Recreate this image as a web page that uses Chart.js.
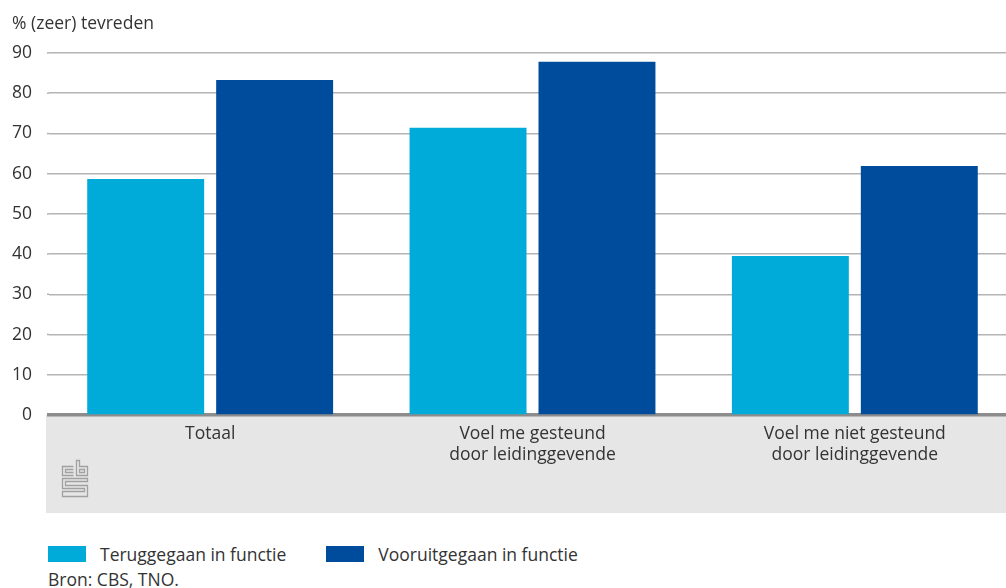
<!DOCTYPE html>
<html>
<head>
<meta charset="utf-8">
<script src="https://cdn.jsdelivr.net/npm/chart.js@4"></script>
<style>
  html, body { margin: 0; padding: 0; background: #fff; overflow: hidden; width: 1006px; height: 588px; }
  body { position: relative; font-family: "Open Sans", sans-serif; color: #333; }
  #wrap { position: absolute; left: 0; top: 0; width: 1018px; height: 520px; }
  #ytitle { position: absolute; left: 12px; top: 10px; font-size: 17.5px; line-height: 24px; }
  #legend { position: absolute; left: 48px; top: 542px; font-size: 17.5px; line-height: 24px; display: flex; }
  .item { display: flex; align-items: center; margin-right: 40px; }
  .sw { width: 38px; height: 16px; margin-right: 14px; }
  #src { position: absolute; left: 48px; top: 567px; font-size: 17.5px; line-height: 24px; }
</style>
</head>
<body>
<div id="wrap"><canvas id="c" width="1018" height="520"></canvas></div>
<div id="ytitle">% (zeer) tevreden</div>
<div id="legend"></div>
<div id="src">Bron: CBS, TNO.</div>
<script>
const categories = ["Totaal", ["Voel me gesteund", "door leidinggevende"], ["Voel me niet gesteund", "door leidinggevende"]];
const seriesNames = ["Teruggegaan in functie", "Vooruitgegaan in functie"];
const teruggegaan = [58.7, 71.4, 39.5];
const vooruitgegaan = [83.3, 87.8, 61.9];
const colors = ["#00aad9", "#004c9c"];
const yTicks = [0, 10, 20, 30, 40, 50, 60, 70, 80, 90];

const bandPlugin = {
  id: 'band',
  beforeDraw(chart) {
    const { ctx, chartArea } = chart;
    ctx.save();
    ctx.fillStyle = '#e6e6e6';
    ctx.fillRect(46, chartArea.bottom, chartArea.right - 46 + 10, 98);
    // cbs logo
    ctx.strokeStyle = '#a0a0a0';
    ctx.lineWidth = 1.3;
    const x0 = 62.5, y0 = 460.5;
    ctx.beginPath();
    ctx.moveTo(x0 + 11, y0 + 6); ctx.lineTo(x0, y0 + 6); ctx.lineTo(x0, y0 + 15); ctx.lineTo(x0 + 11, y0 + 15);
    ctx.moveTo(x0 + 11, y0 + 9); ctx.lineTo(x0 + 3, y0 + 9); ctx.lineTo(x0 + 3, y0 + 12); ctx.lineTo(x0 + 11, y0 + 12);
    ctx.moveTo(x0 + 14, y0); ctx.lineTo(x0 + 14, y0 + 15); ctx.lineTo(x0 + 25, y0 + 15); ctx.lineTo(x0 + 25, y0 + 6); ctx.lineTo(x0 + 17, y0 + 6); ctx.lineTo(x0 + 17, y0); ctx.closePath();
    ctx.moveTo(x0 + 17, y0 + 9); ctx.lineTo(x0 + 22, y0 + 9); ctx.lineTo(x0 + 22, y0 + 12); ctx.lineTo(x0 + 17, y0 + 12); ctx.closePath();
    ctx.moveTo(x0 + 25, y0 + 18); ctx.lineTo(x0, y0 + 18); ctx.lineTo(x0, y0 + 28); ctx.lineTo(x0 + 22, y0 + 28); ctx.lineTo(x0 + 22, y0 + 31); ctx.lineTo(x0, y0 + 31); ctx.lineTo(x0, y0 + 36); ctx.lineTo(x0 + 25, y0 + 36); ctx.lineTo(x0 + 25, y0 + 25); ctx.lineTo(x0 + 3, y0 + 25); ctx.lineTo(x0 + 3, y0 + 21); ctx.lineTo(x0 + 25, y0 + 21); ctx.closePath();
    ctx.stroke();
    ctx.restore();
  },
  beforeDatasetsDraw(chart) {
    const { ctx, chartArea, scales } = chart;
    ctx.save();
    ctx.strokeStyle = '#b4b4b4';
    ctx.lineWidth = 1.5;
    yTicks.forEach(v => {
      if (v === 0) return;
      const y = scales.y.getPixelForValue(v);
      ctx.beginPath(); ctx.moveTo(47, y); ctx.lineTo(chartArea.left, y); ctx.stroke();
    });
    ctx.restore();
  }
};

const chart = new Chart(document.getElementById('c'), {
  type: 'bar',
  data: {
    labels: categories,
    datasets: [
      { label: seriesNames[0], data: teruggegaan, backgroundColor: colors[0] },
      { label: seriesNames[1], data: vooruitgegaan, backgroundColor: colors[1] }
    ]
  },
  options: {
    responsive: false,
    animation: false,
    layout: { padding: { left: 0, right: 2, top: 53, bottom: 0 } },
    plugins: { legend: { display: false }, tooltip: { enabled: false }, title: { display: false } },
    datasets: { bar: { categoryPercentage: 0.8, barPercentage: 0.907 } },
    scales: {
      x: {
        grid: { display: false, drawTicks: false },
        border: { display: true, color: '#8c8c8c', width: 3.5 },
        ticks: { color: '#333', font: { family: 'Open Sans', size: 17.5, lineHeight: 1.2 }, padding: 9, maxRotation: 0, autoSkip: false },
        afterFit(s) { s.height = 105; }
      },
      y: {
        min: 0, max: 90,
        afterBuildTicks(s) { s.ticks = yTicks.map(v => ({ value: v })); },
        grid: { color: '#b4b4b4', lineWidth: 1.5, drawTicks: false },
        border: { display: false },
        ticks: { color: '#333', font: { family: 'Open Sans', size: 17.5 }, padding: 17 },
        afterFit(s) { s.width = 49; }
      }
    }
  },
  plugins: [bandPlugin]
});

const legend = document.getElementById('legend');
seriesNames.forEach((n, i) => {
  const it = document.createElement('div'); it.className = 'item';
  const sw = document.createElement('div'); sw.className = 'sw'; sw.style.background = colors[i];
  const tx = document.createElement('span'); tx.textContent = n;
  it.appendChild(sw); it.appendChild(tx); legend.appendChild(it);
});
</script>
</body>
</html>
